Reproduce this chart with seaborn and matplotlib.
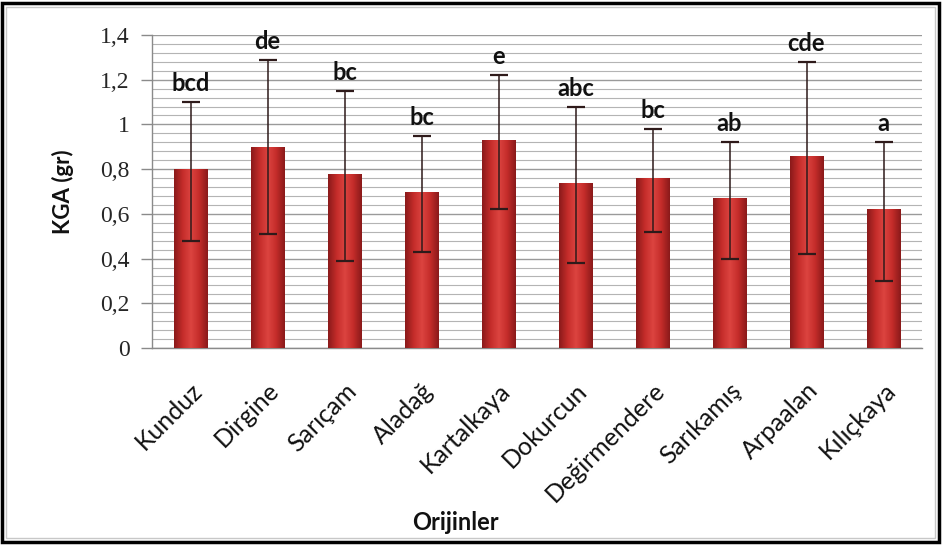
import numpy as np
import pandas as pd
import matplotlib
matplotlib.use("Agg")
import matplotlib.pyplot as plt
import seaborn as sns
from matplotlib.patches import Rectangle
from matplotlib.colors import LinearSegmentedColormap
from matplotlib.ticker import MultipleLocator, FixedLocator

categories = ["Kunduz", "Dirgine", "Sarıçam", "Aladağ", "Kartalkaya", "Dokurcun",
              "Değirmendere", "Sarıkamış", "Arpaalan", "Kılıçkaya"]
means = [0.80, 0.90, 0.78, 0.70, 0.93, 0.74, 0.76, 0.67, 0.86, 0.62]
upper = [1.10, 1.29, 1.15, 0.95, 1.22, 1.08, 0.98, 0.92, 1.28, 0.92]
lower = [0.48, 0.51, 0.39, 0.43, 0.62, 0.38, 0.52, 0.40, 0.42, 0.30]
letters = ["bcd", "de", "bc", "bc", "e", "abc", "bc", "ab", "cde", "a"]
y_ticks = [0, 0.2, 0.4, 0.6, 0.8, 1.0, 1.2, 1.4]
y_tick_labels = ["0", "0,2", "0,4", "0,6", "0,8", "1", "1,2", "1,4"]

df = pd.DataFrame({"Orijin": categories, "KGA": means})

sns.set_theme(style="white")
plt.rcParams['font.family'] = ['Lato', 'DejaVu Sans']

fig = plt.figure(figsize=(9.42, 5.45), dpi=100)
ax = fig.add_axes([152/942, 1-348/545, (922-152)/942, (348-35)/545])

sns.barplot(data=df, x="Orijin", y="KGA", ax=ax, color="#c0302c", width=0.43,
            errorbar=None, edgecolor="#8a1c1c", linewidth=0.6, zorder=3)

# gradient shading on bars
cmap = LinearSegmentedColormap.from_list("bar", ["#8a1a1a", "#c42c2a", "#dc4440", "#c42c2a", "#8a1a1a"])
grad = np.linspace(0, 1, 64).reshape(1, -1)
for p in ax.patches:
    x0, y0 = p.get_x(), p.get_y()
    w, h = p.get_width(), p.get_height()
    im = ax.imshow(grad, cmap=cmap, extent=[x0, x0 + w, y0, y0 + h], aspect="auto",
                   zorder=3.1, interpolation="bicubic")
    im.set_clip_path(p)

xs = np.arange(len(categories))
m = np.array(means)
yerr = np.vstack([m - np.array(lower), np.array(upper) - m])
ax.errorbar(xs, m, yerr=yerr, fmt="none", ecolor="#2e1a1a", elinewidth=1.1,
            capsize=6.5, capthick=1.6, zorder=4)

for x, u, t in zip(xs, upper, letters):
    ax.annotate(t, (x, u), xytext=(0, 5), textcoords="offset points", ha="center",
                va="bottom", fontsize=17, fontweight="bold", color="#111111", zorder=5)

ax.set_xlim(-0.5, len(categories) - 0.5)
ax.set_ylim(0, 1.4)
ax.set_yticks(y_ticks)
ax.set_yticklabels(y_tick_labels, fontfamily="Liberation Serif", fontsize=17)
ax.yaxis.set_minor_locator(MultipleLocator(0.04))
ax.grid(axis="y", which="major", color="#9a9a9a", linewidth=1.0, zorder=0)
ax.grid(axis="y", which="minor", color="#b4b4b4", linewidth=0.8, zorder=0)
ax.set_axisbelow(True)

ax.xaxis.set_minor_locator(FixedLocator(np.arange(-0.5, len(categories), 1.0)))
ax.tick_params(axis="x", which="major", length=0, pad=22)
ax.tick_params(axis="x", which="minor", length=6, color="#8a8a8a", width=1)
ax.tick_params(axis="y", which="major", length=8, color="#8a8a8a", width=1, pad=8, left=True)
ax.tick_params(axis="y", which="minor", length=0)
ax.set_xticks(xs)
ax.set_xticklabels(categories, rotation=45, ha="right", rotation_mode="anchor",
                   fontsize=18, color="#111111")

for s in ["top", "right"]:
    ax.spines[s].set_visible(False)
for s in ["left", "bottom"]:
    ax.spines[s].set_color("#8a8a8a")
    ax.spines[s].set_linewidth(1.0)

ax.set_xlabel("")
ax.set_ylabel("")
fig.text(455/942, 1-522/545, "Orijinler", ha="center", va="center", fontsize=17,
         fontweight="bold", color="#111111")
fig.text(63/942, 1-192/545, "KGA (gr)", ha="center", va="center", rotation=90,
         fontsize=16, fontweight="bold", color="#111111")

# outer frame
fig.add_artist(Rectangle((2/942, 3/545), 937/942, 539/545, transform=fig.transFigure,
                         fill=False, edgecolor="black", linewidth=2.5))
fig.add_artist(Rectangle((6/942, 7/545), 929/942, 531/545, transform=fig.transFigure,
                         fill=False, edgecolor="#c8c8c8", linewidth=1.0))

fig.savefig("out.png", dpi=100)
